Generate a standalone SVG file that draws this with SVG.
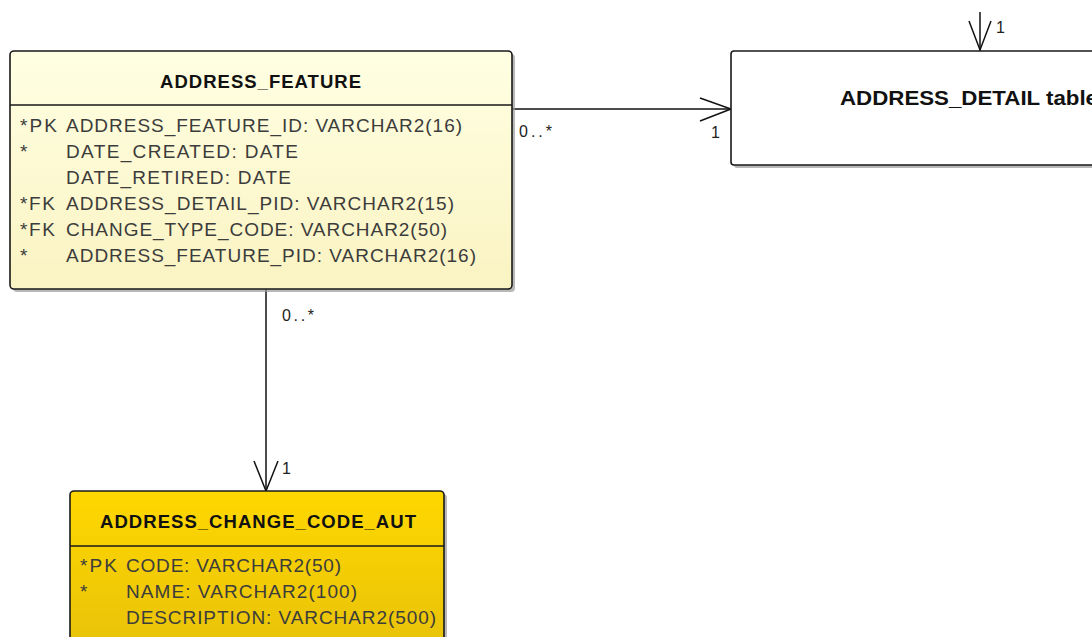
<svg xmlns="http://www.w3.org/2000/svg" width="1092" height="637" viewBox="0 0 1092 637">
<defs>
<linearGradient id="gLight" x1="0" y1="0" x2="0" y2="1">
<stop offset="0" stop-color="#FFFFE3"/>
<stop offset="1" stop-color="#FAF3C2"/>
</linearGradient>
<linearGradient id="gGold" x1="0" y1="0" x2="0" y2="1">
<stop offset="0" stop-color="#FFD800"/>
<stop offset="1" stop-color="#E5BF0A"/>
</linearGradient>
<style>
.box{stroke:#1a1a1a;stroke-width:1.6}
.shadow{fill:#9a9a9a;opacity:0.7}
.sep{stroke:#1a1a1a;stroke-width:1.4}
.title{font-family:"Liberation Sans",Arial,sans-serif;font-weight:bold;font-size:18.5px;fill:#111}
.field{font-family:"Liberation Sans",Arial,sans-serif;font-size:19px;fill:#3c3c3c}
.lbl{font-family:"Liberation Sans",Arial,sans-serif;font-size:16px;fill:#222}
.conn{stroke:#111;stroke-width:1.5;fill:none}
</style>
</defs>
<g id="connectors">
<line class="conn" x1="512" y1="109" x2="731" y2="109"/>
<polyline class="conn" points="700,98 731,109 700,121"/>
<text class="lbl" x="519" y="137" textLength="33" lengthAdjust="spacing">0..*</text>
<text class="lbl" x="711" y="138">1</text>
<line class="conn" x1="266" y1="289" x2="266" y2="491"/>
<polyline class="conn" points="254,461 266,491 278,461"/>
<text class="lbl" x="282" y="321" textLength="32" lengthAdjust="spacing">0..*</text>
<text class="lbl" x="282" y="474">1</text>
<line class="conn" x1="980" y1="12" x2="980" y2="51"/>
<polyline class="conn" points="969,21 980,50 991,21"/>
<text class="lbl" x="996" y="33">1</text>
</g>
<g id="address_feature">
<rect class="shadow" x="13" y="54" width="502" height="238" rx="4"/>
<rect class="box" x="10" y="51" width="502" height="238" rx="4" fill="url(#gLight)"/>
<line class="sep" x1="10" y1="105" x2="512" y2="105"/>
<text class="title" x="160" y="88" textLength="201" lengthAdjust="spacing">ADDRESS_FEATURE</text>
<text class="field" x="20" y="132" textLength="37" lengthAdjust="spacing">*PK</text>
<text class="field" x="66" y="132" textLength="396" lengthAdjust="spacing">ADDRESS_FEATURE_ID: VARCHAR2(16)</text>
<text class="field" x="20" y="158">*</text>
<text class="field" x="66" y="158" textLength="232" lengthAdjust="spacing">DATE_CREATED: DATE</text>
<text class="field" x="66" y="184" textLength="225" lengthAdjust="spacing">DATE_RETIRED: DATE</text>
<text class="field" x="20" y="210" textLength="35" lengthAdjust="spacing">*FK</text>
<text class="field" x="66" y="210" textLength="388" lengthAdjust="spacing">ADDRESS_DETAIL_PID: VARCHAR2(15)</text>
<text class="field" x="20" y="236" textLength="35" lengthAdjust="spacing">*FK</text>
<text class="field" x="66" y="236" textLength="381" lengthAdjust="spacing">CHANGE_TYPE_CODE: VARCHAR2(50)</text>
<text class="field" x="20" y="262">*</text>
<text class="field" x="66" y="262" textLength="410" lengthAdjust="spacing">ADDRESS_FEATURE_PID: VARCHAR2(16)</text>
</g>
<g id="address_detail">
<rect class="shadow" x="734" y="54" width="400" height="114" rx="3"/>
<rect class="box" x="731" y="51" width="400" height="114" rx="3" fill="#FFFFFF"/>
<text class="title" x="840" y="105" style="font-size:20.5px" textLength="258" lengthAdjust="spacingAndGlyphs">ADDRESS_DETAIL table</text>
</g>
<g id="address_change_code_aut">
<rect class="shadow" x="73" y="494" width="374" height="180" rx="4"/>
<rect class="box" x="70" y="491" width="374" height="180" rx="4" fill="url(#gGold)"/>
<line class="sep" x1="70" y1="546" x2="444" y2="546"/>
<text class="title" x="100" y="528" textLength="316" lengthAdjust="spacing">ADDRESS_CHANGE_CODE_AUT</text>
<text class="field" x="80" y="572" textLength="37" lengthAdjust="spacing">*PK</text>
<text class="field" x="126" y="572" textLength="215" lengthAdjust="spacing">CODE: VARCHAR2(50)</text>
<text class="field" x="80" y="598">*</text>
<text class="field" x="126" y="598" textLength="231" lengthAdjust="spacing">NAME: VARCHAR2(100)</text>
<text class="field" x="126" y="624" textLength="310" lengthAdjust="spacing">DESCRIPTION: VARCHAR2(500)</text>
</g>
</svg>
